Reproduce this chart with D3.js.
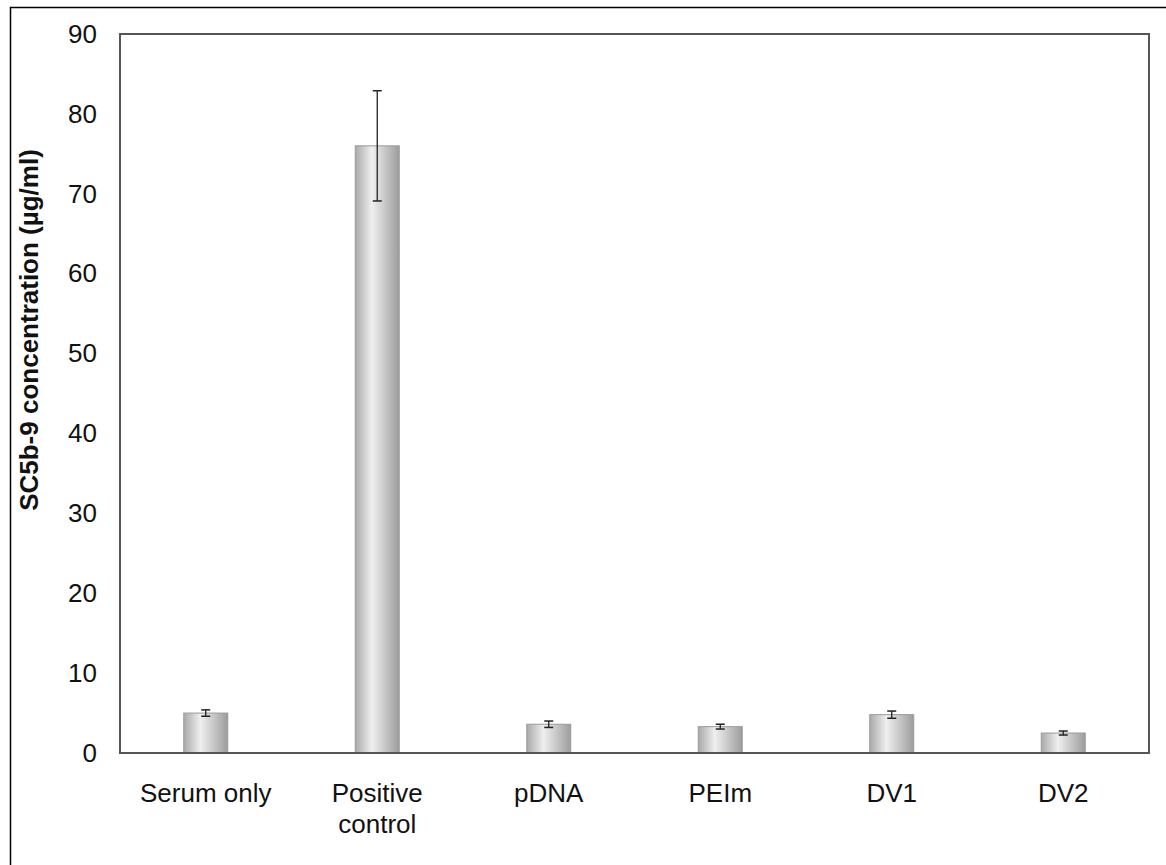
<!DOCTYPE html>
<html>
<head>
<meta charset="utf-8">
<script src="https://cdn.jsdelivr.net/npm/d3@7"></script>
<style>
  body { margin: 0; background: #fff; }
  svg { display: block; font-family: "Liberation Sans", Arial, sans-serif; }
</style>
</head>
<body>
<svg width="1166" height="865"></svg>
<script>
var categories = ["Serum only", "Positive\ncontrol", "pDNA", "PEIm", "DV1", "DV2"];
var values = [5.0, 76.0, 3.6, 3.3, 4.8, 2.5];
var errors = [0.4, 6.9, 0.4, 0.3, 0.45, 0.25];
var yTicks = [0, 10, 20, 30, 40, 50, 60, 70, 80, 90];

var svg = d3.select("svg");
var margin = {left: 120, top: 34, right: 17, bottom: 112};
var width = 1166 - margin.left - margin.right;
var height = 865 - margin.top - margin.bottom;

// outer frame
svg.append("rect")
    .attr("x", 10.5).attr("y", 7.5)
    .attr("width", 1170).attr("height", 870)
    .attr("fill", "none").attr("stroke", "#000").attr("stroke-width", 1.5);

var defs = svg.append("defs");
var grad = defs.append("linearGradient").attr("id", "barGrad")
    .attr("x1", "0%").attr("x2", "100%").attr("y1", "0%").attr("y2", "0%");
grad.append("stop").attr("offset", "0%").attr("stop-color", "#a9a9a9");
grad.append("stop").attr("offset", "38%").attr("stop-color", "#efefef");
grad.append("stop").attr("offset", "100%").attr("stop-color", "#9c9c9c");

var g = svg.append("g").attr("transform", "translate(" + margin.left + "," + margin.top + ")");

var x = d3.scaleBand().domain(categories).range([0, width]);
var y = d3.scaleLinear().domain([0, 90]).range([height, 0]);
var barW = 44;

g.selectAll("rect.bar")
  .data(values)
  .enter().append("rect")
    .attr("class", "bar")
    .attr("x", function(d, i) { return x(categories[i]) + x.bandwidth() / 2 - barW / 2; })
    .attr("y", function(d) { return y(d); })
    .attr("width", barW)
    .attr("height", function(d) { return height - y(d); })
    .attr("fill", "url(#barGrad)")
    .attr("stroke", "#9a9a9a").attr("stroke-width", 1);

// error bars
var eb = g.selectAll("g.err")
  .data(values)
  .enter().append("g")
    .attr("class", "err")
    .attr("transform", function(d, i) { return "translate(" + (x(categories[i]) + x.bandwidth() / 2) + ",0)"; });
eb.append("line")
    .attr("y1", function(d, i) { return y(d - errors[i]); })
    .attr("y2", function(d, i) { return y(d + errors[i]); })
    .attr("stroke", "#222").attr("stroke-width", 1.3);
eb.append("line").attr("x1", -4.5).attr("x2", 4.5)
    .attr("y1", function(d, i) { return y(d + errors[i]); })
    .attr("y2", function(d, i) { return y(d + errors[i]); })
    .attr("stroke", "#222").attr("stroke-width", 1.5);
eb.append("line").attr("x1", -4.5).attr("x2", 4.5)
    .attr("y1", function(d, i) { return y(d - errors[i]); })
    .attr("y2", function(d, i) { return y(d - errors[i]); })
    .attr("stroke", "#222").attr("stroke-width", 1.5);

// plot frame
g.append("rect")
    .attr("width", width).attr("height", height)
    .attr("fill", "none").attr("stroke", "#555").attr("stroke-width", 2);

// y axis labels
var yAxis = g.append("g")
    .call(d3.axisLeft(y).tickValues(yTicks).tickSize(0).tickPadding(23));
yAxis.select(".domain").remove();
yAxis.selectAll("text").attr("font-size", 26).attr("fill", "#111")
    .attr("font-family", "Liberation Sans, Arial, sans-serif");

// x axis labels
var xAxis = g.append("g").attr("transform", "translate(0," + height + ")")
    .call(d3.axisBottom(x).tickSize(0).tickFormat(""));
xAxis.select(".domain").remove();
xAxis.selectAll(".tick").each(function(d) {
  var lines = d.split("\n");
  var t = d3.select(this).append("text")
      .attr("text-anchor", "middle")
      .attr("font-size", 26).attr("fill", "#111")
      .attr("font-family", "Liberation Sans, Arial, sans-serif");
  lines.forEach(function(l, i) {
    t.append("tspan").attr("x", 0).attr("y", 49 + i * 31).text(l);
  });
});

// y title
svg.append("text")
    .attr("transform", "translate(38,330) rotate(-90)")
    .attr("text-anchor", "middle")
    .attr("font-size", 26).attr("font-weight", "bold").attr("fill", "#111")
    .text("SC5b-9 concentration (\u00b5g/ml)");
</script>
</body>
</html>
